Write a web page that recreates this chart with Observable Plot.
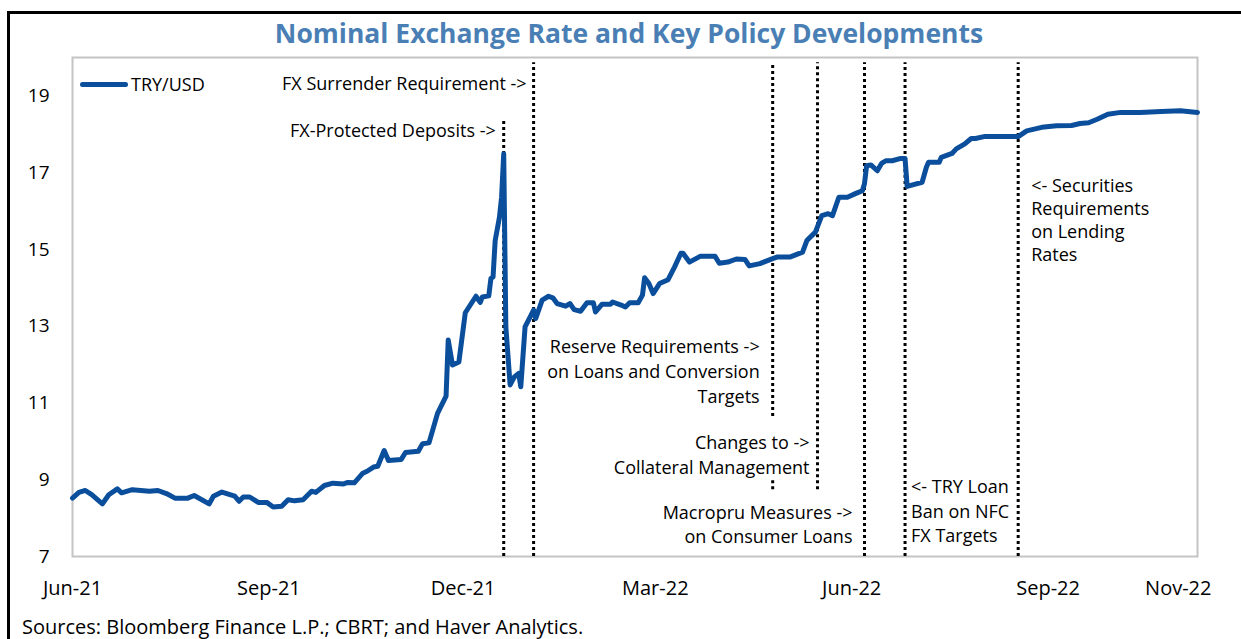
<!DOCTYPE html>
<html>
<head>
<meta charset="utf-8">
<script src="https://cdn.jsdelivr.net/npm/d3@7"></script>
<script src="https://cdn.jsdelivr.net/npm/@observablehq/plot@0.6"></script>
<style>
  html, body { margin: 0; padding: 0; background: #fff; }
  #wrap { position: relative; width: 1241px; height: 639px; overflow: hidden; background: #fff; font-family: "Open Sans", sans-serif; }
  #frameTop { position: absolute; left: 7px; top: 11px; right: 0; height: 3px; background: #000; }
  #frameLeft { position: absolute; left: 7px; top: 11px; width: 3px; bottom: 0; background: #000; }
  #title { position: absolute; left: 0; top: 17px; width: 1258px; text-align: center; font-weight: 700; font-size: 26.5px; line-height: 32px; color: #4a7fb5; }
  #chart { position: absolute; left: 0; top: 50px; }
  #legend { position: absolute; left: 80px; top: 71px; display: flex; align-items: center; font-size: 18px; line-height: 26px; color: #000; }
  #legend .sw { width: 48px; height: 5px; border-radius: 3px; background: #0b4f9c; margin-right: 3px; }
  #caption { position: absolute; left: 22px; top: 613px; font-size: 20px; line-height: 28px; color: #000; white-space: nowrap; }
</style>
</head>
<body>
<div id="wrap">
  <div id="frameTop"></div>
  <div id="frameLeft"></div>
  <div id="title">Nominal Exchange Rate and Key Policy Developments</div>
  <div id="chart"></div>
  <div id="legend"><span class="sw"></span><span id="legendText">TRY/USD</span></div>
  <div id="caption">Sources: Bloomberg Finance L.P.; CBRT; and Haver Analytics.</div>
</div>
<script>
// ---------- data ----------
const seriesName = "TRY/USD";
const dates = [
  "2021-06-01","2021-06-04","2021-06-07","2021-06-10","2021-06-15","2021-06-18","2021-06-22","2021-06-24","2021-06-29",
  "2021-07-07","2021-07-11","2021-07-15","2021-07-19","2021-07-25","2021-07-28",
  "2021-08-04","2021-08-06","2021-08-10","2021-08-16","2021-08-18","2021-08-20","2021-08-23","2021-08-27","2021-08-31",
  "2021-09-03","2021-09-07","2021-09-10","2021-09-13","2021-09-17","2021-09-21","2021-09-23","2021-09-27",
  "2021-10-01","2021-10-06","2021-10-08","2021-10-11","2021-10-15","2021-10-17","2021-10-20","2021-10-22","2021-10-25","2021-10-27",
  "2021-11-02","2021-11-04","2021-11-10","2021-11-12","2021-11-15","2021-11-19","2021-11-23","2021-11-24","2021-11-26","2021-11-29",
  "2021-12-02","2021-12-07","2021-12-09","2021-12-10","2021-12-13","2021-12-14","2021-12-15","2021-12-16","2021-12-18","2021-12-19",
  "2021-12-20","2021-12-21","2021-12-23","2021-12-25","2021-12-27","2021-12-28","2021-12-30",
  "2022-01-03","2022-01-04","2022-01-07","2022-01-10","2022-01-12","2022-01-14","2022-01-18","2022-01-20","2022-01-22","2022-01-25","2022-01-28","2022-01-31",
  "2022-02-01","2022-02-04","2022-02-08","2022-02-09","2022-02-13","2022-02-15","2022-02-17","2022-02-21","2022-02-23","2022-02-24","2022-02-26","2022-02-28",
  "2022-03-03","2022-03-07","2022-03-10","2022-03-13","2022-03-14","2022-03-17","2022-03-22","2022-03-29","2022-03-31",
  "2022-04-04","2022-04-08","2022-04-12","2022-04-14","2022-04-19","2022-04-25","2022-04-27",
  "2022-05-03","2022-05-09","2022-05-11","2022-05-15","2022-05-18","2022-05-21","2022-05-23","2022-05-26","2022-05-30",
  "2022-06-03","2022-06-06","2022-06-07","2022-06-08","2022-06-10","2022-06-13","2022-06-15","2022-06-17","2022-06-20","2022-06-24","2022-06-26","2022-06-27","2022-06-30",
  "2022-07-04","2022-07-06","2022-07-07","2022-07-12","2022-07-13","2022-07-18","2022-07-20","2022-07-24","2022-07-27","2022-07-29",
  "2022-08-02","2022-08-18","2022-08-22","2022-08-29",
  "2022-09-05","2022-09-12","2022-09-16","2022-09-20","2022-09-24","2022-09-29",
  "2022-10-05","2022-10-14","2022-10-24","2022-11-02","2022-11-10"
];
const values = [
  8.52,8.67,8.72,8.61,8.37,8.61,8.76,8.66,8.74,
  8.70,8.72,8.64,8.52,8.52,8.59,
  8.37,8.57,8.68,8.57,8.44,8.55,8.55,8.41,8.41,
  8.29,8.31,8.48,8.45,8.48,8.70,8.67,8.85,
  8.91,8.89,8.93,8.92,9.17,9.22,9.33,9.35,9.76,9.50,
  9.53,9.71,9.74,9.94,9.96,10.73,11.18,12.64,11.99,12.07,
  13.35,13.78,13.62,13.76,13.79,14.24,14.28,15.23,15.84,16.36,
  17.49,12.98,11.47,11.68,11.77,11.42,12.98,
  13.42,13.20,13.68,13.78,13.74,13.59,13.52,13.59,13.43,13.39,13.61,13.61,
  13.37,13.57,13.57,13.63,13.55,13.50,13.61,13.61,13.81,14.26,14.11,13.85,
  14.11,14.21,14.54,14.90,14.90,14.67,14.82,14.82,14.64,
  14.67,14.75,14.74,14.57,14.63,14.76,14.80,
  14.80,14.93,15.23,15.45,15.88,15.93,15.88,16.36,16.36,
  16.46,16.53,16.71,17.18,17.20,17.05,17.24,17.31,17.31,17.37,17.37,16.64,16.69,
  16.75,17.14,17.27,17.27,17.40,17.50,17.62,17.75,17.89,17.89,
  17.94,17.94,18.09,18.18,
  18.22,18.23,18.28,18.30,18.39,18.52,
  18.57,18.57,18.59,18.61,18.57
];

const yTicks = [7, 9, 11, 13, 15, 17, 19];
const xTickDates = ["2021-06-01","2021-09-01","2021-12-01","2022-03-01","2022-06-01","2022-09-01","2022-11-01"];
const xDomain = ["2021-06-01", "2022-11-10"];
const yDomain = [7, 20];

// policy events
const eventDates = ["2021-12-20","2022-01-03","2022-04-25","2022-05-16","2022-06-07","2022-06-26","2022-08-18"];
const eventLabels = [
  "FX-Protected Deposits ->",
  "FX Surrender Requirement ->",
  "Reserve Requirements ->\non Loans and Conversion\nTargets",
  "Changes to ->\nCollateral Management",
  "Macropru Measures ->\non Consumer Loans",
  "<- TRY Loan\nBan on NFC\nFX Targets",
  "<- Securities\nRequirements\non Lending\nRates"
];
// visible extents of each dotted event line (value units)
const ruleDates  = ["2021-12-20","2022-01-03","2022-04-25","2022-04-25","2022-05-16","2022-06-07","2022-06-26","2022-08-18"];
const ruleFrom   = [7, 7, 10.65, 8.74, 8.74, 7, 7, 7];
const ruleTo     = [18.35, 19.86, 19.86, 9.0, 19.86, 19.86, 19.86, 19.86];

// ---------- build ----------
const parse = d3.utcParse("%Y-%m-%d");
const series = dates.map((d, i) => ({date: parse(d), value: values[i]}));
const rules = ruleDates.map((d, i) => ({date: parse(d), y1: ruleFrom[i], y2: ruleTo[i]}));

// annotation layout (styles only)
const annLayout = [
  {anchor: "end",   dx: -8,  dy: 61.5, lh: 1.39},
  {anchor: "end",   dx: -7,  dy: 14.5, lh: 1.39},
  {anchor: "end",   dx: -13, dy: 277.5, lh: 1.40},
  {anchor: "end",   dx: -8,  dy: 373.5, lh: 1.39},
  {anchor: "end",   dx: -12, dy: 444.5, lh: 1.34},
  {anchor: "start", dx: 6,   dy: 418.5, lh: 1.36},
  {anchor: "start", dx: 13,  dy: 117.5, lh: 1.29}
];
const annMarks = eventDates.map((d, i) => Plot.text([{date: parse(d), label: eventLabels[i]}], {
  x: "date", text: "label", frameAnchor: "top", lineAnchor: "top",
  textAnchor: annLayout[i].anchor, dx: annLayout[i].dx, dy: annLayout[i].dy,
  lineHeight: annLayout[i].lh, fontSize: 18, fill: "#000"
}));

const lineColor = "#0b4f9c";
const chart = Plot.plot({
  width: 1241,
  height: 556,
  marginLeft: 72,
  marginRight: 44,
  marginTop: 7,
  marginBottom: 50,
  style: {fontFamily: "Open Sans, sans-serif", fontSize: "18px", color: "#000", background: "transparent"},
  x: {type: "utc", domain: xDomain.map(parse)},
  y: {domain: yDomain},
  marks: [
    Plot.frame({stroke: "#c4c4c4", strokeWidth: 2}),
    Plot.ruleX(rules, {x: "date", y1: "y1", y2: "y2", stroke: "#000", strokeWidth: 3, strokeDasharray: "3,3"}),
    ...annMarks,
    Plot.lineY(series, {x: "date", y: "value", stroke: lineColor, strokeWidth: 5, strokeLinejoin: "round", strokeLinecap: "round"}),
    Plot.axisX({ticks: xTickDates.map(parse), tickFormat: d3.utcFormat("%b-%y"), tickSize: 0, tickPadding: 24, fontSize: 20, label: null}),
    Plot.axisY({ticks: yTicks, tickSize: 0, tickPadding: 23, fontSize: 19, label: null})
  ]
});
document.getElementById("chart").appendChild(chart);
document.getElementById("legendText").textContent = seriesName;
</script>
</body>
</html>
